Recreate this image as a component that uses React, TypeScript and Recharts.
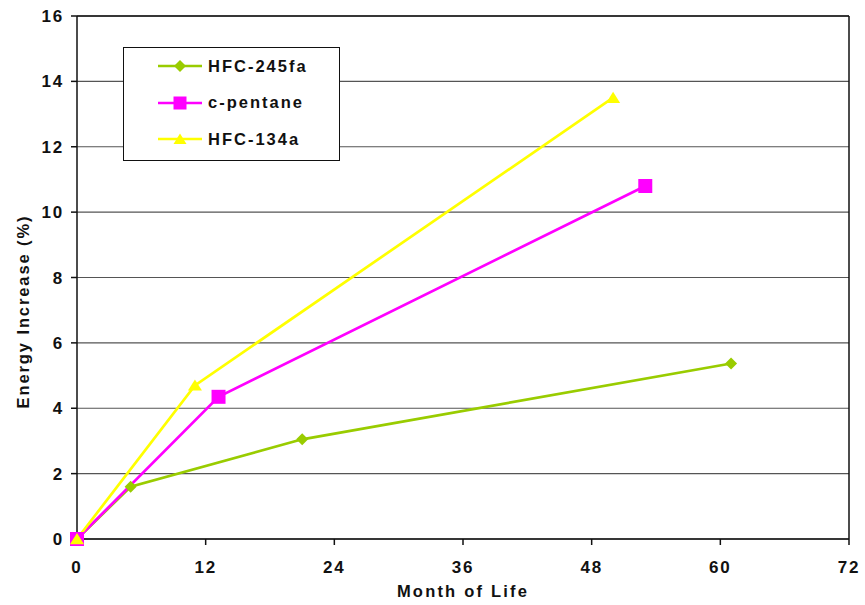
import {
  LineChart,
  Line,
  XAxis,
  YAxis,
  CartesianGrid,
  Legend,
  ReferenceLine,
  Label
} from 'recharts'

// 数据
const hfc245faMonths = [0, 5, 21, 61]
const hfc245faValues = [0, 1.6, 3.05, 5.37]
const cpentaneMonths = [0, 13.2, 53]
const cpentaneValues = [0, 4.35, 10.8]
const hfc134aMonths = [0, 11, 50]
const hfc134aValues = [0, 4.7, 13.5]

const xTicks = [0, 12, 24, 36, 48, 60, 72]
const yTicks = [0, 2, 4, 6, 8, 10, 12, 14, 16]

const toPoints = (xs: number[], ys: number[]) => xs.map((x, i) => ({ month: x, value: ys[i] }))

const series = [
  { name: 'HFC-245fa', color: '#99CC00', shape: 'diamond', data: toPoints(hfc245faMonths, hfc245faValues) },
  { name: 'c-pentane', color: '#FF00FF', shape: 'square', data: toPoints(cpentaneMonths, cpentaneValues) },
  { name: 'HFC-134a', color: '#FFFF00', shape: 'triangle', data: toPoints(hfc134aMonths, hfc134aValues) },
]

const FONT = '"Liberation Sans", Arial, sans-serif'

// 标记形状
function markerPath(shape: string, cx: number, cy: number, s: number) {
  const h = s / 2
  if (shape === 'diamond') return `M${cx},${cy - h}L${cx + h},${cy}L${cx},${cy + h}L${cx - h},${cy}Z`
  if (shape === 'square') return `M${cx - h},${cy - h}L${cx + h},${cy - h}L${cx + h},${cy + h}L${cx - h},${cy + h}Z`
  return `M${cx},${cy - h * 0.85}L${cx + h},${cy + h * 0.75}L${cx - h},${cy + h * 0.75}Z`
}

const markerSize: Record<string, number> = { diamond: 12, square: 14, triangle: 14 }

function makeDot(shape: string, color: string) {
  return (props: any) => {
    const { cx, cy, index } = props
    if (cx == null || cy == null) return <g key={index} />
    return <path key={index} d={markerPath(shape, cx, cy, markerSize[shape])} fill={color} stroke="none" />
  }
}

function LegendBox() {
  return (
    <div
      style={{
        width: 215,
        height: 112,
        border: '1.5px solid #111',
        background: '#fff',
        boxSizing: 'content-box',
        position: 'relative'
      }}
    >
      {series.map((s, i) => (
        <div
          key={s.name}
          style={{
            position: 'absolute',
            left: 34,
            top: 18 + i * 36.7 - 10,
            height: 20,
            display: 'flex',
            alignItems: 'center'
          }}
        >
          <svg width={45} height={20} style={{ display: 'block' }}>
            <line x1={0} y1={10} x2={44} y2={10} stroke={s.color} strokeWidth={2.7} />
            <path d={markerPath(s.shape, 22, 10, s.shape === 'diamond' ? 12 : 13)} fill={s.color} />
          </svg>
          <span
            style={{
              marginLeft: 5,
              fontFamily: FONT,
              fontWeight: 'bold',
              fontSize: 16.5,
              letterSpacing: 2,
              color: '#111'
            }}
          >
            {s.name}
          </span>
        </div>
      ))}
    </div>
  )
}

export default function App() {
  const tickStyle = { fontFamily: FONT, fontWeight: 'bold', fontSize: 17, fill: '#111', letterSpacing: 1.8 }

  return (
    <div style={{ position: 'absolute', left: 0, top: 0, width: 865, height: 605, background: '#fff' }}>
      <LineChart width={865} height={605} margin={{ top: 16, right: 16, left: 0, bottom: 0 }}>
        <CartesianGrid vertical={false} stroke="#555" strokeWidth={1.2} />
        <XAxis
          type="number"
          dataKey="month"
          domain={[0, 72]}
          ticks={xTicks}
          height={66}
          tickSize={6}
          tickMargin={16}
          stroke="#111"
          strokeWidth={1.5}
          tick={tickStyle}
          allowDuplicatedCategory={false}
        >
          <Label
            value="Month of Life"
            position="insideBottom"
            offset={8}
            style={{ fontFamily: FONT, fontWeight: 'bold', fontSize: 16.5, fill: '#111', letterSpacing: 2.2 }}
          />
        </XAxis>
        <YAxis
          type="number"
          dataKey="value"
          domain={[0, 16]}
          ticks={yTicks}
          width={77}
          tickSize={6}
          tickMargin={7}
          stroke="#111"
          strokeWidth={1.5}
          tick={tickStyle}
        >
          <Label
            value="Energy Increase (%)"
            angle={-90}
            position="insideLeft"
            offset={0}
            content={(props: any) => {
              const vb = props.viewBox || {}
              const cy = (vb.y ?? 0) + (vb.height ?? 0) / 2 + 34
              return (
                <text
                  x={29}
                  y={cy}
                  transform={`rotate(-90, 29, ${cy})`}
                  textAnchor="middle"
                  style={{ fontFamily: FONT, fontWeight: 'bold', fontSize: 16.5, fill: '#111', letterSpacing: 1.9 }}
                >
                  Energy Increase (%)
                </text>
              )
            }}
          />
        </YAxis>
        <ReferenceLine y={16} stroke="#111" strokeWidth={1.5} />
        <ReferenceLine x={72} stroke="#111" strokeWidth={1.5} />
        <Legend
          layout="vertical"
          align="center"
          verticalAlign="middle"
          wrapperStyle={{ position: 'absolute', left: 123, top: 47, width: 'auto' }}
          content={() => <LegendBox />}
        />
        {series.map((s) => (
          <Line
            key={s.name}
            name={s.name}
            data={s.data}
            dataKey="value"
            type="linear"
            stroke={s.color}
            strokeWidth={2.7}
            dot={makeDot(s.shape, s.color)}
            activeDot={false}
            isAnimationActive={false}
          />
        ))}
      </LineChart>
    </div>
  )
}
